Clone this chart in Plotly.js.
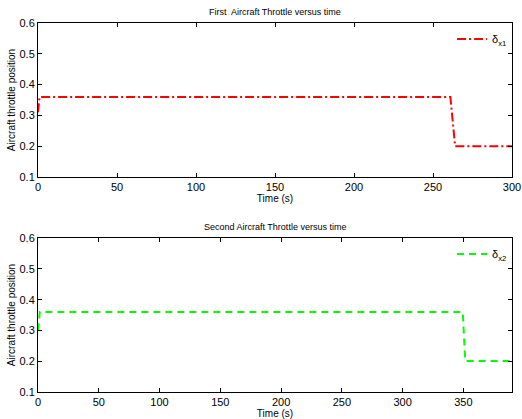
<!DOCTYPE html>
<html>
<head>
<meta charset="utf-8">
<script src="https://cdn.plot.ly/plotly-3.0.1.min.js"></script>
<style>
  html, body { margin: 0; padding: 0; background: #fff; }
  #chart { width: 522px; height: 419px; }
</style>
</head>
<body>
<div id="chart"></div>
<script>
// First aircraft throttle command (time in s, throttle position)
const time1 = [0, 1, 261, 264, 300];
const throttle1 = [0.31, 0.36, 0.36, 0.20, 0.20];

// Second aircraft throttle command
const time2 = [0, 1.5, 349.5, 351.5, 390];
const throttle2 = [0.30, 0.36, 0.36, 0.20, 0.20];

const xTicks1 = [0, 50, 100, 150, 200, 250, 300];
const xTicks2 = [0, 50, 100, 150, 200, 250, 300, 350];
const yTicks = [0.1, 0.2, 0.3, 0.4, 0.5, 0.6];

const names = ['δ<sub>x1</sub>', 'δ<sub>x2</sub>'];
const titles = ['First  Aircraft Throttle versus time', 'Second Aircraft Throttle versus time'];

const FONT = 'Liberation Sans, Arial, Helvetica, sans-serif';

const traces = [
  {
    x: time1, y: throttle1, name: names[0], mode: 'lines',
    line: { color: '#ff0000', width: 2, dash: '9px,3px,2px,3px' },
    xaxis: 'x', yaxis: 'y', legend: 'legend'
  },
  {
    x: time2, y: throttle2, name: names[1], mode: 'lines',
    line: { color: '#00ff00', width: 2, dash: '7px,5px' },
    xaxis: 'x2', yaxis: 'y2', legend: 'legend2'
  }
];

const dom = [38 / 522, 512 / 522];

function xAxis(range, ticks, anchor) {
  return {
    domain: dom, range: range, anchor: anchor,
    tickvals: ticks, ticks: 'inside', ticklen: 4, tickcolor: '#000',
    showline: true, linecolor: '#000', linewidth: 1, mirror: 'ticks',
    showgrid: false, zeroline: false,
    tickfont: { family: FONT, size: 11, color: '#000' },
    title: { text: 'Time (s)', font: { family: FONT, size: 10, color: '#000' }, standoff: 2 }
  };
}

function yAxis(domain, anchor) {
  return {
    domain: domain, range: [0.1, 0.6], anchor: anchor,
    tickvals: yTicks, tickformat: '.1f', ticks: 'inside', ticklen: 4, tickcolor: '#000',
    showline: true, linecolor: '#000', linewidth: 1, mirror: 'ticks',
    showgrid: false, zeroline: false,
    tickfont: { family: FONT, size: 11, color: '#000' },
    title: { text: 'Aircraft throttle position', font: { family: FONT, size: 10, color: '#000' }, standoff: 2 }
  };
}

function legendAt(yPaper) {
  return {
    x: 0.866, y: yPaper, xanchor: 'left', yanchor: 'middle',
    bgcolor: 'rgba(0,0,0,0)', borderwidth: 0,
    font: { family: FONT, size: 11, color: '#000' },
    itemwidth: 30
  };
}

const layout = {
  width: 522, height: 419,
  margin: { l: 0, r: 0, t: 0, b: 0 },
  paper_bgcolor: '#fff', plot_bgcolor: '#fff',
  showlegend: true,
  xaxis: xAxis([0, 300], xTicks1, 'y'),
  yaxis: yAxis([(419 - 177) / 419, (419 - 23) / 419], 'x'),
  xaxis2: xAxis([0, 390], xTicks2, 'y2'),
  yaxis2: yAxis([(419 - 391.7) / 419, (419 - 238.3) / 419], 'x2'),
  legend: legendAt((419 - 39) / 419),
  legend2: legendAt((419 - 254) / 419),
  annotations: titles.map((t, i) => ({
    text: t, xref: 'paper', yref: 'paper',
    x: 0.527, y: i === 0 ? (419 - 12) / 419 : (419 - 227) / 419,
    xanchor: 'center', yanchor: 'middle', showarrow: false,
    font: { family: FONT, size: 9, color: '#000' }
  }))
};

Plotly.newPlot('chart', traces, layout, { staticPlot: true, displayModeBar: false });
</script>
</body>
</html>
